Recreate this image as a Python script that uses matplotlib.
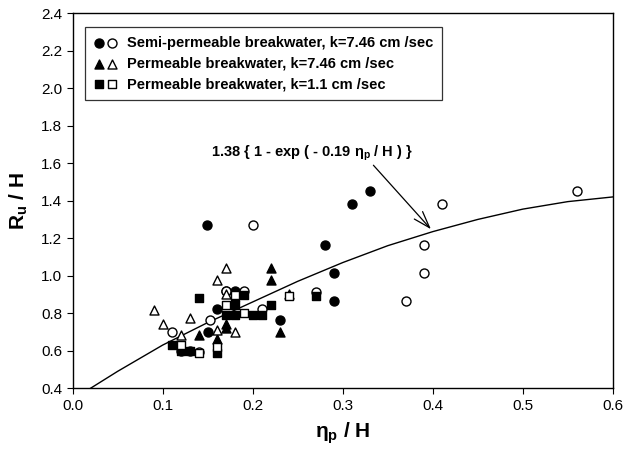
import matplotlib
matplotlib.use("Agg")
import matplotlib.pyplot as plt
from matplotlib.legend_handler import HandlerTuple

plt.rcParams["font.family"] = ["Liberation Sans", "DejaVu Sans"]
plt.rcParams["mathtext.fontset"] = "custom"
plt.rcParams["mathtext.rm"] = "Liberation Sans"
plt.rcParams["mathtext.bf"] = "Liberation Sans:bold"
plt.rcParams["mathtext.it"] = "Liberation Sans:italic"

# semi-permeable breakwater, k=7.46 cm/sec
semi_fill_x = [0.149, 0.31, 0.33, 0.28, 0.29, 0.29, 0.16, 0.23, 0.15, 0.12, 0.13, 0.17, 0.18, 0.18]
semi_fill_y = [1.27, 1.38, 1.45, 1.165, 1.015, 0.865, 0.82, 0.765, 0.70, 0.60, 0.60, 0.92, 0.92, 0.91]
semi_open_x = [0.20, 0.41, 0.56, 0.39, 0.39, 0.37, 0.27, 0.153, 0.21, 0.11, 0.19, 0.14, 0.17]
semi_open_y = [1.27, 1.38, 1.45, 1.165, 1.015, 0.865, 0.915, 0.765, 0.825, 0.70, 0.92, 0.595, 0.92]

# permeable breakwater, k=7.46 cm/sec
perm_fill_x = [0.22, 0.22, 0.23, 0.17, 0.14, 0.16, 0.24, 0.17]
perm_fill_y = [1.04, 0.975, 0.70, 0.72, 0.685, 0.66, 0.905, 0.74]
perm_open_x = [0.09, 0.10, 0.13, 0.17, 0.16, 0.12, 0.18, 0.16, 0.17]
perm_open_y = [0.815, 0.74, 0.775, 1.04, 0.975, 0.685, 0.70, 0.71, 0.90]

# permeable breakwater, k=1.1 cm/sec
low_fill_x = [0.14, 0.11, 0.12, 0.13, 0.16, 0.17, 0.18, 0.20, 0.21, 0.22, 0.18, 0.19, 0.18, 0.27]
low_fill_y = [0.88, 0.63, 0.60, 0.60, 0.59, 0.79, 0.79, 0.79, 0.79, 0.845, 0.845, 0.895, 0.885, 0.89]
low_open_x = [0.17, 0.18, 0.19, 0.24, 0.12, 0.14, 0.16]
low_open_y = [0.845, 0.895, 0.80, 0.89, 0.63, 0.59, 0.62]

# fitted curve
curve_x = [0.02, 0.05, 0.10, 0.15, 0.20, 0.25, 0.30, 0.35, 0.40, 0.45, 0.50, 0.55, 0.60]
curve_y = [0.40, 0.49, 0.63, 0.75, 0.86, 0.97, 1.07, 1.16, 1.235, 1.30, 1.355, 1.395, 1.42]

fig = plt.figure(figsize=(6.26, 4.53), dpi=100)
ax = fig.add_axes([0.116, 0.143, 0.863, 0.828])

ms = 42
h1 = ax.scatter(semi_fill_x, semi_fill_y, s=ms, marker="o", c="black", zorder=3)
h2 = ax.scatter(semi_open_x, semi_open_y, s=ms, marker="o", facecolors="white", edgecolors="black", linewidths=1.0, zorder=3)
h3 = ax.scatter(perm_fill_x, perm_fill_y, s=ms, marker="^", c="black", zorder=3)
h4 = ax.scatter(perm_open_x, perm_open_y, s=ms, marker="^", facecolors="white", edgecolors="black", linewidths=1.0, zorder=3)
h5 = ax.scatter(low_fill_x, low_fill_y, s=36, marker="s", c="black", zorder=3)
h6 = ax.scatter(low_open_x, low_open_y, s=36, marker="s", facecolors="white", edgecolors="black", linewidths=1.0, zorder=3)

ax.plot(curve_x, curve_y, color="black", lw=1.0, zorder=2)

ax.annotate("", xy=(0.40, 1.237), xytext=(0.332, 1.60),
            arrowprops=dict(arrowstyle="->,head_length=1.2,head_width=0.4", color="black", lw=0.9))
ax.text(0.266, 1.655, r"1.38 { 1 - exp ( - 0.19 $\mathbf{\eta_p}$ / H ) }",
        ha="center", va="center", fontsize=10.5, fontweight="bold")

leg = ax.legend([(h1, h2), (h3, h4), (h5, h6)],
                ["Semi-permeable breakwater, k=7.46 cm /sec",
                 "Permeable breakwater, k=7.46 cm /sec",
                 "Permeable breakwater, k=1.1 cm /sec"],
                handler_map={tuple: HandlerTuple(ndivide=None, pad=0.2)},
                loc="upper left", bbox_to_anchor=(0.023, 0.962),
                prop={"weight": "bold", "size": 10.5},
                frameon=True, fancybox=False, edgecolor="black",
                handlelength=1.6, handletextpad=0.7, labelspacing=0.45,
                borderpad=0.6, borderaxespad=0)
leg.get_frame().set_linewidth(0.9)

ax.set_xlim(0, 0.6)
ax.set_ylim(0.4, 2.4)
ax.set_xticks([0.0, 0.1, 0.2, 0.3, 0.4, 0.5, 0.6])
ax.set_yticks([0.4, 0.6, 0.8, 1.0, 1.2, 1.4, 1.6, 1.8, 2.0, 2.2, 2.4])
ax.set_xticklabels(["0.0", "0.1", "0.2", "0.3", "0.4", "0.5", "0.6"])
ax.set_yticklabels(["0.4", "0.6", "0.8", "1.0", "1.2", "1.4", "1.6", "1.8", "2.0", "2.2", "2.4"])
ax.tick_params(direction="out", length=4, labelsize=11, width=0.8)
for sp in ax.spines.values():
    sp.set_linewidth(1.0)

ax.set_xlabel(r"$\mathbf{\eta_p}$ / H", fontsize=15, fontweight="bold", labelpad=6)
ax.set_ylabel(r"R$\mathbf{_u}$ / H", fontsize=15, fontweight="bold", labelpad=8)

fig.savefig("out.png", dpi=100)
